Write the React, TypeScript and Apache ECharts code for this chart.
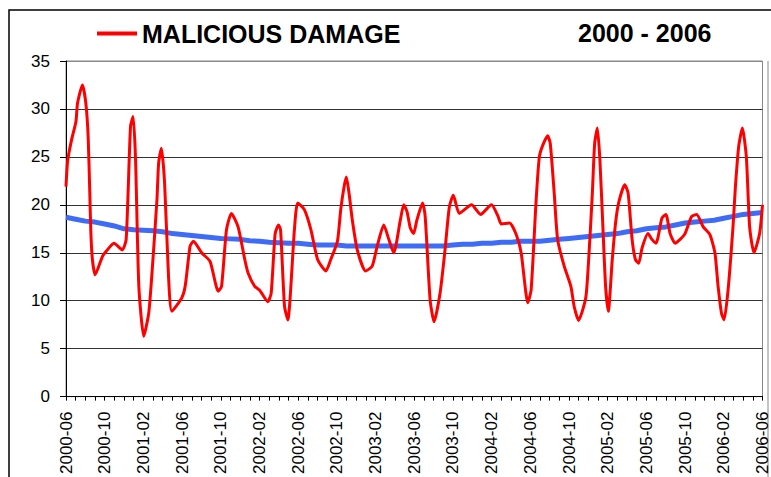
import React, { useEffect, useRef } from "react";
import * as echarts from "echarts";

// Tick labels (every 4 months, starting at 2000-06)
const tickLabels = [
  "2000-06", "2000-10", "2001-02", "2001-06", "2001-10", "2002-02", "2002-06",
  "2002-10", "2003-02", "2003-06", "2003-10", "2004-02", "2004-06", "2004-10",
  "2005-02", "2005-06", "2005-10", "2006-02", "2006-06",
];

// Red series: position in months after 2000-06, and value
const redMonth = [
  0, 0.17, 0.58, 1.03, 1.19, 1.7, 2.05, 2.29, 2.46, 2.57, 2.73, 3.01, 3.76, 4.11, 4.96,
  5.81, 6.22, 6.67, 6.94, 7.19, 7.53, 8.04, 8.55, 8.89, 9.4, 9.58, 9.86, 10.19, 10.6,
  10.94, 11.97, 12.32, 12.83, 13.17, 14.02, 14.89, 15.74, 16.08, 16.59, 17.1, 17.79,
  18.48, 18.82, 19.51, 20.02, 20.87, 21.21, 21.62, 21.97, 22.18, 22.59, 22.93, 23.61,
  23.95, 24.64, 25.32, 26.01, 26.86, 27.37, 28.06, 28.4, 28.75, 28.98, 29.26, 29.6,
  30.11, 30.97, 31.65, 32.17, 32.85, 33.37, 33.88, 34.56, 34.91, 35.25, 35.59, 35.93,
  36.27, 36.86, 37.13, 37.64, 38.05, 38.67, 39.18, 39.63, 40.04, 40.66, 41.92, 42.85,
  43.98, 44.66, 45.0, 45.85, 46.54, 47.05, 47.74, 48.08, 48.6, 48.93, 49.28, 49.79,
  50.06, 50.47, 50.82, 51.5, 52.19, 52.53, 52.98, 53.73, 54.07, 54.41, 54.65, 54.93,
  55.19, 55.5, 55.78, 56.06, 56.47, 56.81, 57.15, 57.76, 58.11, 58.52, 58.86, 59.2,
  59.55, 60.16, 60.57, 60.99, 61.6, 62.01, 62.45, 62.97, 63.48, 63.99, 64.68, 65.2,
  65.87, 66.56, 67.08, 67.41, 67.76, 68.03, 68.44, 68.95, 69.2, 69.54, 69.92, 70.33,
  70.67, 71.12, 71.7, 72,
];
const redValue = [
  21.9, 24.6, 26.8, 28.7, 30.6, 32.5, 30.6, 27.1, 21.2, 17.1, 14.3, 12.7, 14.6, 15.1, 16.0,
  15.3, 16.4, 28.2, 29.2, 24.7, 11.5, 6.3, 8.7, 12.9, 20.5, 24.4, 25.9, 22.3, 12.5,
  8.9, 10.3, 11.5, 15.7, 16.2, 15.0, 14.1, 11.0, 11.5, 17.4, 19.1, 17.7,
  14.3, 12.9, 11.5, 11.1, 9.9, 10.8, 17.0, 17.9, 17.4, 9.4, 8.0, 17.4,
  20.2, 19.5, 17.4, 14.3, 13.1, 14.3, 16.2, 19.5, 21.9, 22.9, 21.2, 18.4,
  15.3, 13.1, 13.6, 15.7, 17.9, 16.4, 15.0, 18.4, 20.0, 19.3, 17.6, 17.0,
  18.4, 20.2, 18.8, 10.1, 7.8, 10.8, 15.3, 19.8, 21.0, 19.1, 20.0, 19.0,
  20.0, 18.8, 18.0, 18.1, 16.9, 15.0, 9.8, 11.1, 20.5, 25.0, 26.2, 27.2,
  26.4, 21.2, 16.4, 13.6, 11.5, 9.4, 7.95, 10.3, 15.0, 21.2, 26.4, 28.0,
  24.7, 17.7, 11.5, 8.9, 14.3, 18.1, 20.3, 22.1, 21.2, 16.4, 14.3, 13.9,
  15.5, 17.0, 16.4, 16.0, 18.6, 19.0, 17.0, 16.0, 16.4, 17.0, 18.8, 19.0,
  17.7, 16.9, 15.0, 11.5, 8.7, 8.0, 11.1, 17.7, 21.9, 26.1, 28.0, 25.0,
  17.7, 15.0, 17.0, 20.0,
];

// Blue trend: one value per month from 2000-06 to 2006-06
const trendValue = [
  18.7, 18.5, 18.3, 18.2, 18.0, 17.8, 17.5, 17.4, 17.35, 17.3, 17.2, 17.0, 16.9, 16.8,
  16.7, 16.6, 16.5, 16.45, 16.4, 16.25, 16.2, 16.1, 16.05, 16.0, 16.0, 15.9, 15.8, 15.8,
  15.8, 15.7, 15.7, 15.7, 15.7, 15.7, 15.7, 15.7, 15.7, 15.7, 15.7, 15.7, 15.8, 15.9,
  15.9, 16.0, 16.0, 16.1, 16.1, 16.2, 16.2, 16.2, 16.3, 16.4, 16.5, 16.6, 16.7, 16.8,
  16.9, 17.0, 17.2, 17.3, 17.5, 17.6, 17.7, 17.9, 18.1, 18.2, 18.3, 18.4, 18.6, 18.8,
  19.0, 19.1, 19.2,
];

const seriesName = "MALICIOUS DAMAGE";
const periodText = "2000 - 2006";

const FONT = "'Liberation Sans', Arial, sans-serif";

export default function App() {
  const ref = useRef<HTMLDivElement>(null);

  useEffect(() => {
    if (!ref.current) return;
    const chart = echarts.init(ref.current, null, { renderer: "svg" });
    const redData = redMonth.map((m, i) => [m, redValue[i]]);
    const trendData = trendValue.map((v, i) => [i, v]);
    const gridColors = ["#333", "#333", "#333", "#333", "#333", "#333", "#333", "#888"];

    chart.setOption({
      animation: false,
      backgroundColor: "#fff",
      textStyle: { fontFamily: FONT },
      title: {
        text: periodText,
        left: 578,
        top: 20,
        padding: 0,
        textStyle: { fontFamily: FONT, fontSize: 25, fontWeight: "bold", color: "#000" },
      },
      legend: {
        data: [seriesName],
        left: 97,
        top: 21,
        padding: 0,
        icon: "rect",
        itemWidth: 40,
        itemHeight: 4,
        textStyle: { fontFamily: FONT, fontSize: 25, fontWeight: "bold", color: "#000" },
      },
      grid: {
        left: 66,
        right: 3,
        top: 61,
        bottom: 80,
        show: true,
        borderColor: "#888",
        borderWidth: 1,
        containLabel: false,
      },
      xAxis: {
        type: "value",
        min: 0,
        max: 72,
        interval: 4,
        axisLine: { show: true, lineStyle: { color: "#000", width: 1 } },
        axisTick: { show: true, length: 4, lineStyle: { color: "#000" } },
        minorTick: { show: true, splitNumber: 4, length: 4, lineStyle: { color: "#000" } },
        splitLine: { show: false },
        axisLabel: {
          rotate: 90,
          margin: 15,
          fontFamily: FONT,
          fontSize: 17,
          color: "#000",
          formatter: (v: number) => tickLabels[Math.round(v / 4)] ?? "",
        },
      },
      yAxis: {
        type: "value",
        min: 0,
        max: 35,
        interval: 5,
        axisLine: { show: true, lineStyle: { color: "#000", width: 1 } },
        axisTick: { show: true, length: 6, lineStyle: { color: "#000" } },
        splitLine: { show: true, lineStyle: { color: gridColors, width: 1 } },
        axisLabel: { margin: 16, fontFamily: FONT, fontSize: 17, color: "#000" },
      },
      graphic: [
        {
          type: "rect",
          silent: true,
          shape: { x: 9, y: 10, width: 800, height: 500 },
          style: { fill: "none", stroke: "#000", lineWidth: 1.5 },
        },
        {
          type: "line",
          silent: true,
          shape: { x1: 768, y1: 61, x2: 768, y2: 477 },
          style: { stroke: "#888", lineWidth: 1 },
        },
      ],
      series: [
        {
          name: "trend",
          type: "line",
          data: trendData,
          showSymbol: false,
          symbol: "none",
          lineStyle: { color: "#3f6cf6", width: 5 },
          z: 2,
        },
        {
          name: seriesName,
          type: "line",
          data: redData,
          showSymbol: false,
          symbol: "none",
          smooth: 0.2,
          itemStyle: { color: "#ff0000" },
          lineStyle: { color: "#ff0000", width: 3 },
          z: 3,
        },
      ],
    });
    return () => chart.dispose();
  }, []);

  return (
    <div
      ref={ref}
      style={{ position: "fixed", left: 0, top: 0, width: 771, height: 477, background: "#fff" }}
    />
  );
}
